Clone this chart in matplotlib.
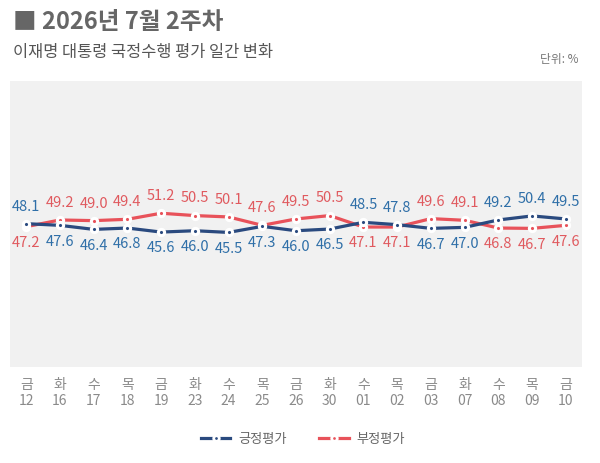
import matplotlib.pyplot as plt
from matplotlib.lines import Line2D

plt.rcParams['font.family'] = ['Noto Sans CJK KR', 'DejaVu Sans']

days = ['금', '화', '수', '목', '금', '화', '수', '목', '금', '화', '수', '목', '금', '화', '수', '목', '금']
dates = ['12', '16', '17', '18', '19', '23', '24', '25', '26', '30', '01', '02', '03', '07', '08', '09', '10']
positive = [48.1, 47.6, 46.4, 46.8, 45.6, 46.0, 45.5, 47.3, 46.0, 46.5, 48.5, 47.8, 46.7, 47.0, 49.2, 50.4, 49.5]
negative = [47.2, 49.2, 49.0, 49.4, 51.2, 50.5, 50.1, 47.6, 49.5, 50.5, 47.1, 47.1, 49.6, 49.1, 46.8, 46.7, 47.6]

blue = '#2a4a7f'
red = '#e8525a'
blue_txt = '#2f6fa8'
red_txt = '#e05a5f'

fig = plt.figure(figsize=(6, 4.64), dpi=100)
ax = fig.add_axes([10 / 600, 1 - 368 / 464, 572 / 600, 286 / 464])
ax.set_facecolor('#f1f1f1')
for s in ax.spines.values():
    s.set_visible(False)

x = list(range(len(days)))
ax.plot(x, negative, color=red, lw=2.3, marker='o', ms=4.5, mfc=red, mec='white', mew=2.2, zorder=3)
ax.plot(x, positive, color=blue, lw=2.3, marker='o', ms=4.5, mfc=blue, mec='white', mew=2.2, zorder=4)

for i in x:
    p, n = positive[i], negative[i]
    if p >= n:
        ax.annotate(f'{p:.1f}', (i, p), xytext=(0, 8), textcoords='offset points',
                    ha='center', va='bottom', fontsize=10.5, color=blue_txt)
        ax.annotate(f'{n:.1f}', (i, n), xytext=(0, -6), textcoords='offset points',
                    ha='center', va='top', fontsize=10.5, color=red_txt)
    else:
        ax.annotate(f'{n:.1f}', (i, n), xytext=(0, 8), textcoords='offset points',
                    ha='center', va='bottom', fontsize=10.5, color=red_txt)
        ax.annotate(f'{p:.1f}', (i, p), xytext=(0, -6), textcoords='offset points',
                    ha='center', va='top', fontsize=10.5, color=blue_txt)

ax.set_xlim(-0.48, 16.48)
ax.set_ylim(5.5, 90.5)
ax.set_yticks([])
ax.set_xticks(x)
ax.set_xticklabels([f'{d}\n{t}' for d, t in zip(days, dates)], fontsize=10, color='#8a8a8a',
                   linespacing=1.25)
ax.tick_params(axis='x', length=0, pad=7)

fig.text(0.022, 0.953, '■ 2026년 7월 2주차', fontsize=17, fontweight='bold', color='#666666',
         ha='left', va='center')
fig.text(0.022, 0.886, '이재명 대통령 국정수행 평가 일간 변화', fontsize=11.8, color='#555555',
         ha='left', va='center')
fig.text(0.965, 0.872, '단위: %', fontsize=8.5, color='#777777', ha='right', va='center')

handles = [Line2D([0], [0], color=blue, lw=2.3, marker='o', ms=4, mfc=blue, mec='white', mew=2),
           Line2D([0], [0], color=red, lw=2.3, marker='o', ms=4, mfc=red, mec='white', mew=2)]
fig.legend(handles, ['긍정평가', '부정평가'], loc='center', bbox_to_anchor=(0.505, 0.052), ncol=2,
           frameon=False, fontsize=9.5, labelcolor='#666666', handlelength=2.2, columnspacing=2.5,
           handletextpad=0.6)

fig.savefig('out.png', dpi=100)
